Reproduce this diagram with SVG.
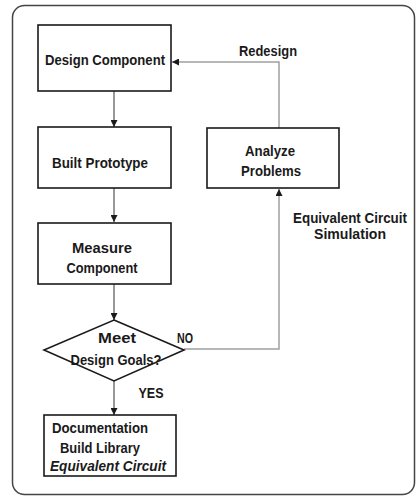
<svg xmlns="http://www.w3.org/2000/svg" width="419" height="497" viewBox="0 0 419 497">
<style>
.box{fill:#fff;stroke:#1a1a1a;stroke-width:1.6}
.t{font-family:"Liberation Sans",Arial,sans-serif;font-weight:bold;font-size:15px;fill:#1a1a1a;text-anchor:middle;dominant-baseline:central}
.c1{fill:none;stroke:#333;stroke-width:1}
.c2{fill:none;stroke:#a0a0a0;stroke-width:1.5}
</style>
<defs>
<marker id="ah" viewBox="0 0 10 10" refX="10" refY="5" markerWidth="7" markerHeight="7" orient="auto" markerUnits="userSpaceOnUse"><path d="M0,0L10,5L0,10z" fill="#1a1a1a"/></marker>
</defs>
<rect x="12.5" y="5.5" width="402" height="489" rx="12" fill="#fff" stroke="#444" stroke-width="1.5"/>
<g id="connectors">
<path class="c1" d="M114,91V127" marker-end="url(#ah)"/>
<path class="c1" d="M114,188V222" marker-end="url(#ah)"/>
<path class="c1" d="M114,284V320" marker-end="url(#ah)"/>
<path class="c1" d="M114,381V415" marker-end="url(#ah)"/>
<path class="c2" d="M184,349H279V189" marker-end="url(#ah)"/>
<path class="c2" d="M279,128V62H172" marker-end="url(#ah)"/>
<text class="t" x="268" y="50" textLength="58" lengthAdjust="spacingAndGlyphs">Redesign</text>
<text class="t" x="185" y="337" textLength="16" lengthAdjust="spacingAndGlyphs">NO</text>
<text class="t" x="151" y="392" textLength="25" lengthAdjust="spacingAndGlyphs">YES</text>
<text class="t" x="350" y="217" textLength="114" lengthAdjust="spacingAndGlyphs">Equivalent Circuit</text>
<text class="t" x="350" y="233" textLength="72" lengthAdjust="spacingAndGlyphs">Simulation</text>
</g>
<g id="design">
<rect class="box" x="38" y="25" width="133" height="66"/>
<text class="t" x="105" y="59" textLength="120" lengthAdjust="spacingAndGlyphs">Design Component</text>
</g>
<g id="prototype">
<rect class="box" x="38" y="127" width="133" height="61"/>
<text class="t" x="100" y="162" textLength="96" lengthAdjust="spacingAndGlyphs">Built Prototype</text>
</g>
<g id="analyze">
<rect class="box" x="207" y="128" width="132" height="60"/>
<text class="t" x="270" y="150" textLength="50" lengthAdjust="spacingAndGlyphs">Analyze</text>
<text class="t" x="271" y="170" textLength="60" lengthAdjust="spacingAndGlyphs">Problems</text>
</g>
<g id="measure">
<rect class="box" x="38" y="223" width="133" height="61"/>
<text class="t" x="102" y="247" textLength="60" lengthAdjust="spacingAndGlyphs">Measure</text>
<text class="t" x="102" y="267" textLength="71" lengthAdjust="spacingAndGlyphs">Component</text>
</g>
<g id="decision">
<polygon class="box" points="114,320 184,350 114,381 44,350"/>
<text class="t" x="117" y="337" textLength="38" lengthAdjust="spacingAndGlyphs">Meet</text>
<text class="t" x="116" y="359" textLength="91" lengthAdjust="spacingAndGlyphs">Design Goals?</text>
</g>
<g id="documentation">
<rect class="box" x="44" y="415" width="132" height="61"/>
<text class="t" x="52" y="427" style="text-anchor:start" textLength="96" lengthAdjust="spacingAndGlyphs">Documentation</text>
<text class="t" x="60" y="447" style="text-anchor:start" textLength="80" lengthAdjust="spacingAndGlyphs">Build Library</text>
<text class="t" x="50" y="465" style="text-anchor:start;font-style:italic" textLength="116" lengthAdjust="spacingAndGlyphs">Equivalent Circuit</text>
</g>
</svg>
